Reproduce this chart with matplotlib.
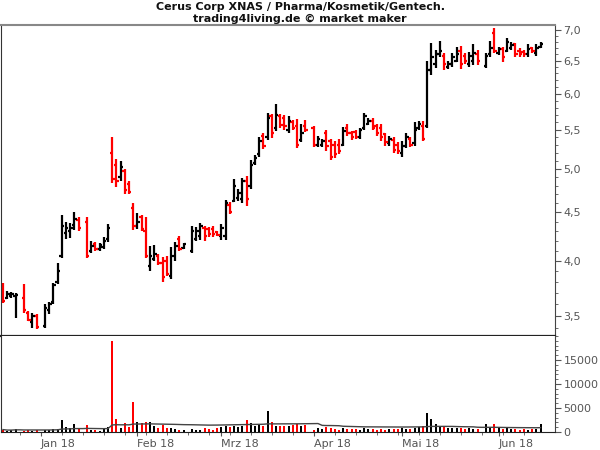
import numpy as np
import pandas as pd
import matplotlib
matplotlib.use('Agg')
import matplotlib.pyplot as plt
from matplotlib.ticker import FixedLocator, FuncFormatter, NullFormatter, MultipleLocator

# ---- data (weekdays 2017-12-19 .. 2018-06-15, None = exchange holiday) ----
dates = pd.bdate_range('2017-12-19', '2018-06-15')

opens = [3.76, 3.66, 3.67, 3.67, None, 3.66, 3.53, 3.45, 3.50, None,
         3.42, 3.55, 3.62, 3.80, 4.05, 4.28, 4.30, 4.36, 4.42, None,
         4.40, 4.10, 4.17, 4.12, 4.14, 4.22, 5.20, 5.05, 4.90, 4.98,
         4.82, 4.55, 4.35, 4.45, 4.30, 3.95, 4.02, 4.05, 3.98, 4.00,
         3.86, 4.05, 4.22, 4.13, None, 4.10, 4.22, 4.25, 4.33, 4.32,
         4.32, 4.29, 4.25, 4.25, 4.58, 4.62, 4.66, 4.65, 4.85, 4.80,
         5.07, 5.18, 5.42, 5.40, 5.68, 5.52, 5.68, 5.65, 5.50, 5.60,
         5.55, 5.36, 5.55, None, 5.52, 5.30, 5.30, 5.45, 5.35, 5.30,
         5.30, 5.30, 5.52, 5.45, 5.47, 5.40, 5.52, 5.58, 5.62, 5.55,
         5.52, 5.44, 5.32, 5.36, 5.30, 5.20, 5.28, 5.38, 5.32, 5.52,
         5.55, 5.55, 6.35, 6.45, 6.60, 6.58, 6.40, 6.45, 6.50, 6.65,
         6.58, 6.45, 6.50, 6.60, None, 6.42, 6.60, 6.95, 6.62, 6.68,
         6.66, 6.70, 6.76, 6.66, 6.63, 6.60, 6.70, 6.62, 6.72]
highs = [3.79, 3.72, 3.71, 3.70, None, 3.78, 3.54, 3.53, 3.52, None,
         3.60, 3.62, 3.79, 3.98, 4.47, 4.40, 4.39, 4.50, 4.45, None,
         4.45, 4.20, 4.19, 4.18, 4.24, 4.37, 5.40, 5.12, 5.09, 5.00,
         4.85, 4.60, 4.49, 4.47, 4.45, 4.15, 4.16, 4.07, 4.04, 4.05,
         4.14, 4.19, 4.25, 4.18, None, 4.35, 4.34, 4.39, 4.35, 4.34,
         4.35, 4.30, 4.37, 4.64, 4.61, 4.88, 4.76, 4.89, 4.91, 5.11,
         5.17, 5.40, 5.45, 5.72, 5.71, 5.85, 5.71, 5.70, 5.68, 5.63,
         5.64, 5.57, 5.63, None, 5.55, 5.42, 5.38, 5.50, 5.38, 5.35,
         5.37, 5.53, 5.57, 5.48, 5.50, 5.52, 5.72, 5.66, 5.66, 5.58,
         5.57, 5.46, 5.42, 5.40, 5.33, 5.35, 5.45, 5.40, 5.60, 5.62,
         5.62, 6.50, 6.78, 6.67, 6.82, 6.62, 6.50, 6.62, 6.72, 6.73,
         6.62, 6.64, 6.77, 6.67, None, 6.62, 6.82, 7.03, 6.72, 6.72,
         6.87, 6.80, 6.78, 6.70, 6.67, 6.77, 6.72, 6.77, 6.80]
lows = [3.61, 3.65, 3.66, 3.48, None, 3.53, 3.46, 3.40, 3.39, None,
        3.40, 3.52, 3.60, 3.78, 4.03, 4.22, 4.23, 4.31, 4.30, None,
        4.03, 4.08, 4.10, 4.10, 4.12, 4.19, 4.83, 4.78, 4.85, 4.70,
        4.70, 4.31, 4.32, 4.30, 4.03, 3.90, 4.00, 3.96, 3.80, 3.86,
        3.83, 4.00, 4.10, 4.12, None, 4.08, 4.20, 4.21, 4.20, 4.24,
        4.24, 4.25, 4.21, 4.21, 4.48, 4.61, 4.62, 4.60, 4.57, 4.76,
        5.05, 5.15, 5.25, 5.36, 5.39, 5.48, 5.52, 5.49, 5.46, 5.49,
        5.26, 5.34, 5.47, None, 5.27, 5.27, 5.27, 5.22, 5.11, 5.13,
        5.18, 5.29, 5.42, 5.36, 5.37, 5.37, 5.49, 5.56, 5.49, 5.42,
        5.35, 5.29, 5.29, 5.20, 5.18, 5.15, 5.26, 5.27, 5.29, 5.50,
        5.35, 5.52, 6.28, 6.39, 6.56, 6.35, 6.37, 6.40, 6.47, 6.37,
        6.45, 6.40, 6.43, 6.43, None, 6.38, 6.56, 6.62, 6.59, 6.47,
        6.64, 6.67, 6.56, 6.55, 6.56, 6.56, 6.62, 6.58, 6.70]
closes = [3.63, 3.69, 3.69, 3.68, None, 3.55, 3.47, 3.50, 3.41, None,
          3.57, 3.60, 3.77, 3.90, 4.35, 4.33, 4.33, 4.43, 4.33, None,
          4.05, 4.15, 4.12, 4.16, 4.20, 4.33, 4.88, 4.85, 5.02, 4.75,
          4.73, 4.35, 4.40, 4.32, 4.05, 4.05, 4.07, 3.98, 3.85, 3.88,
          4.05, 4.15, 4.12, 4.17, None, 4.30, 4.30, 4.35, 4.25, 4.27,
          4.27, 4.26, 4.33, 4.60, 4.50, 4.80, 4.72, 4.85, 4.65, 5.05,
          5.13, 5.35, 5.28, 5.65, 5.45, 5.70, 5.56, 5.55, 5.62, 5.52,
          5.30, 5.45, 5.50, None, 5.30, 5.38, 5.35, 5.28, 5.15, 5.18,
          5.22, 5.48, 5.46, 5.40, 5.40, 5.50, 5.68, 5.62, 5.52, 5.46,
          5.40, 5.33, 5.38, 5.24, 5.22, 5.28, 5.40, 5.30, 5.50, 5.58,
          5.38, 6.35, 6.55, 6.60, 6.65, 6.45, 6.45, 6.55, 6.60, 6.45,
          6.50, 6.58, 6.62, 6.50, None, 6.58, 6.70, 6.65, 6.68, 6.55,
          6.80, 6.75, 6.60, 6.60, 6.60, 6.68, 6.65, 6.70, 6.76]
volumes = [500, 300, 400, 600, None, 300, 400, 300, 500, None,
           400, 500, 600, 700, 2400, 1100, 800, 1600, 700, None,
           1400, 500, 400, 300, 600, 1100, 18900, 2700, 800, 1900,
           1000, 6200, 2000, 1900, 2000, 2100, 1200, 900, 1500, 800,
           900, 700, 500, 400, None, 700, 400, 500, 800, 600,
           500, 900, 1000, 1200, 1100, 1300, 1000, 1200, 2500, 1900,
           1300, 1500, 1200, 4400, 2000, 1300, 1200, 1300, 1200, 1500,
           1600, 1200, 1400, None, 500, 900, 700, 1000, 800, 600,
           500, 800, 700, 600, 600, 500, 900, 600, 700, 500,
           600, 500, 600, 700, 600, 800, 700, 600, 900, 1000,
           1300, 3900, 2700, 1600, 1300, 1000, 900, 900, 800, 900,
           700, 800, 700, 600, None, 1600, 900, 1600, 800, 700,
           800, 600, 700, 500, 600, 500, 600, 700, 1600]

month_labels = ['Jan 18', 'Feb 18', 'Mrz 18', 'Apr 18', 'Mai 18', 'Jun 18']
price_ticks = [3.5, 4.0, 4.5, 5.0, 5.5, 6.0, 6.5, 7.0]
volume_ticks = [0, 5000, 10000, 15000]

# ---- prepare ----
o = np.array(opens, dtype=float)
h = np.array(highs, dtype=float)
l = np.array(lows, dtype=float)
c = np.array(closes, dtype=float)
v = np.array(volumes, dtype=float)
x = np.arange(len(dates))
valid = ~np.isnan(o)
RED, BLACK = '#ff0000', '#000000'
cols = np.where(c < o, RED, BLACK)

month_pos = []
for m in [1, 2, 3, 4, 5, 6]:
    month_pos.append(int(np.argmax((dates.month == m) & (dates.year == 2018))))
monday_pos = [i for i, d in enumerate(dates) if d.weekday() == 0]

fig = plt.figure(figsize=(6, 4.5), dpi=100)
L, W = 1 / 600, 554 / 600
ax = fig.add_axes([L, 1 - 336 / 450, W, (336 - 25) / 450])
axv = fig.add_axes([L, 1 - 432 / 450, W, (432 - 336) / 450], sharex=ax)

# OHLC bars
xv, ov, hv, lv, cv, colv = x[valid], o[valid], h[valid], l[valid], c[valid], cols[valid]
ax.vlines(xv, lv, hv, colors=colv, linewidth=1.6)
ax.hlines(ov, xv - 0.55, xv, colors=colv, linewidth=1.6)
ax.hlines(cv, xv, xv + 0.55, colors=colv, linewidth=1.6)

ax.set_yscale('log')
ax.set_ylim(3.335, 7.085)
ax.set_xlim(-0.476, 131.43)
ax.yaxis.tick_right()
ax.yaxis.set_major_locator(FixedLocator(price_ticks))
ax.yaxis.set_major_formatter(FuncFormatter(lambda val, p: f"{val:.1f}".replace('.', ',')))
ax.yaxis.set_minor_locator(FixedLocator(np.round(np.arange(3.4, 7.09, 0.1), 2)))
ax.yaxis.set_minor_formatter(NullFormatter())
ax.tick_params(axis='y', which='major', length=4, width=0.8, color='#555',
               labelsize=8, labelcolor='#555', pad=2)
ax.tick_params(axis='y', which='minor', length=2, width=0.6, color='#555')
ax.tick_params(axis='x', which='both', bottom=False, labelbottom=False)
ax.spines['top'].set_color('#888')
ax.spines['top'].set_linewidth(1.5)
ax.spines['left'].set_color('#333')
ax.spines['right'].set_color('#444')
ax.spines['bottom'].set_color('#222')
ax.spines['bottom'].set_linewidth(1.6)

# volume
vavg = pd.Series(v).rolling(50, min_periods=1).mean().ffill().values
axv.bar(x[valid], v[valid], width=0.5, color=cols[valid], linewidth=0)
axv.plot(x, vavg, color='#444', linewidth=1.0)
axv.set_ylim(0, 20000)
axv.yaxis.tick_right()
axv.yaxis.set_major_locator(FixedLocator(volume_ticks))
axv.yaxis.set_minor_locator(MultipleLocator(1000))
axv.tick_params(axis='y', which='major', length=4, width=0.8, color='#555',
                labelsize=8, labelcolor='#555', pad=2)
axv.tick_params(axis='y', which='minor', length=2, width=0.6, color='#555')
axv.xaxis.set_major_locator(FixedLocator(month_pos))
axv.xaxis.set_minor_locator(FixedLocator(monday_pos))
axv.set_xticklabels(month_labels, ha='left')
axv.tick_params(axis='x', which='major', length=3, color='#555', labelsize=8,
                labelcolor='#555', pad=2)
axv.tick_params(axis='x', which='minor', length=2, color='#555')
axv.spines['top'].set_visible(False)
axv.spines['left'].set_color('#333')
axv.spines['right'].set_color('#444')
axv.spines['bottom'].set_color('#222')

fig.text(0.5, 1 - 7 / 450, 'Cerus Corp XNAS / Pharma/Kosmetik/Gentech.', ha='center',
         va='center', fontsize=8, fontweight='bold', color='#111')
fig.text(0.5, 1 - 19 / 450, 'trading4living.de \u00a9 market maker', ha='center',
         va='center', fontsize=8, fontweight='bold', color='#111')

fig.savefig('out.png', dpi=100)
